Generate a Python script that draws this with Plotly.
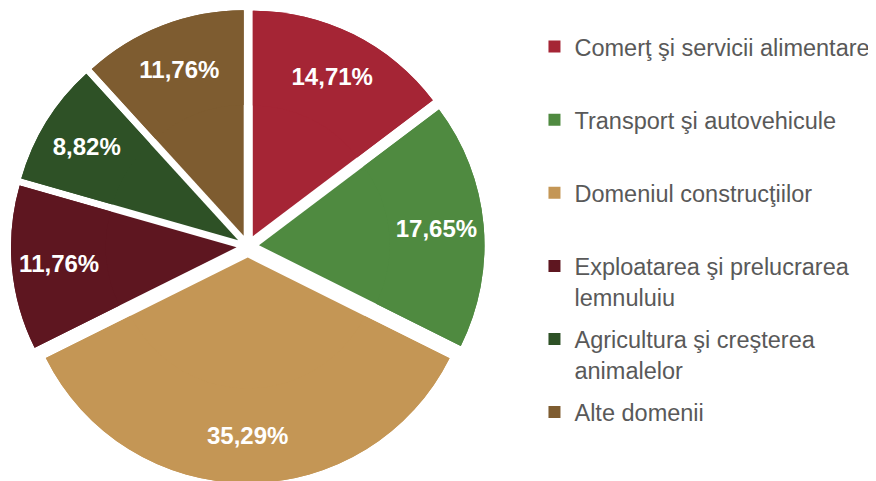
import plotly.graph_objects as go

categories = [
    "Comerţ şi servicii alimentare",
    "Transport şi autovehicule",
    "Domeniul construcţiilor",
    "Exploatarea şi prelucrarea lemnuluiu",
    "Agricultura şi creşterea animalelor",
    "Alte domenii",
]
legend_labels = [
    "Comerţ şi servicii alimentare<br> ",
    "Transport şi autovehicule<br> ",
    "Domeniul construcţiilor<br> ",
    "Exploatarea şi prelucrarea<br>lemnuluiu",
    "Agricultura şi creşterea<br>animalelor",
    "Alte domenii<br> ",
]
values = [14.71, 17.65, 35.29, 11.76, 8.82, 11.76]
colors = ["#A52535", "#4F8A40", "#C49655", "#5E1620", "#2E5126", "#7E5C30"]

pie_domain = dict(x=[0.0034, 0.544], y=[0.0123, 0.9969])
pulls = [0.05] * len(values)

fig = go.Figure()
# full pie (no text)
fig.add_trace(go.Pie(
    labels=categories, values=values, sort=False, direction="clockwise",
    rotation=0, pull=pulls,
    marker=dict(colors=colors, line=dict(width=0)),
    textinfo="none", showlegend=False, hoverinfo="skip",
    domain=pie_domain,
))
# ring overlay carrying the labels near the outer edge
fig.add_trace(go.Pie(
    labels=categories, values=values, sort=False, direction="clockwise",
    rotation=0, pull=pulls, hole=0.58,
    marker=dict(colors=colors, line=dict(width=0)),
    texttemplate="%{value:.2f}%",
    textposition="inside",
    insidetextorientation="horizontal",
    textfont=dict(family="Arial, Liberation Sans", size=24, color="white", weight="bold"),
    showlegend=False, hoverinfo="label+percent",
    domain=pie_domain,
))

for i, (lab, col) in enumerate(zip(legend_labels, colors)):
    fig.add_trace(go.Scatter(
        x=[None], y=[None], mode="markers",
        marker=dict(symbol="square", size=12, color=col),
        name=lab, legendgroup=str(i), showlegend=True,
    ))

fig.update_layout(
    width=876, height=481,
    margin=dict(l=0, r=0, t=0, b=0),
    paper_bgcolor="white", plot_bgcolor="white",
    separators=",.",
    xaxis=dict(visible=False), yaxis=dict(visible=False),
    legend=dict(
        x=0.601, y=0.965, xanchor="left", yanchor="top",
        font=dict(family="Arial, Liberation Sans", size=23.5, color="#595959"),
        valign="top", tracegroupgap=9, itemsizing="trace",
        bgcolor="rgba(0,0,0,0)",
    ),
)

fig.write_html("out.html")
